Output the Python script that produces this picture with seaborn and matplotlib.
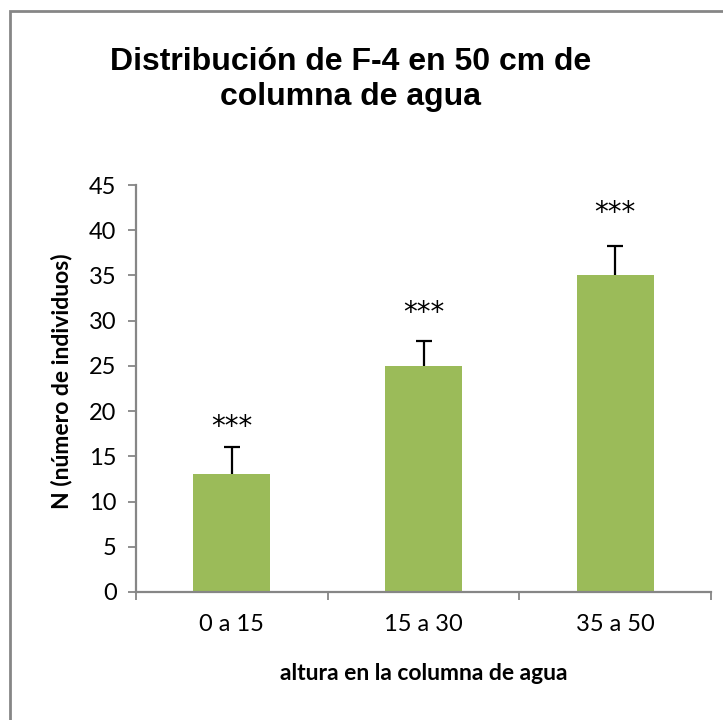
import matplotlib
matplotlib.use("Agg")
import matplotlib.pyplot as plt
from matplotlib.patches import Rectangle
import seaborn as sns
import pandas as pd

# Data
categories = ["0 a 15", "15 a 30", "35 a 50"]
individuos = [13, 25, 35]
error_sup = [3.0, 2.8, 3.3]
significancia = ["***", "***", "***"]
y_ticks = [0, 5, 10, 15, 20, 25, 30, 35, 40, 45]

df = pd.DataFrame({"altura": categories, "N": individuos})

sns.set_theme(style="white")
plt.rcParams["font.family"] = ["Lato", "DejaVu Sans"]

BAR_COLOR = "#9BBB59"
AXIS_COLOR = "#868686"

fig = plt.figure(figsize=(7.23, 7.2), dpi=100)

# chart frame: a patch whose right and bottom edges run off the canvas
frame = Rectangle((10, -20), 760, 720 - 11 + 20, transform=None,
                  fill=False, edgecolor=AXIS_COLOR, linewidth=2.0,
                  clip_on=False, zorder=0)
fig.add_artist(frame)

ax = fig.add_axes([136 / 723, 1 - 592 / 720, (711 - 136) / 723, (592 - 185) / 720])

sns.barplot(data=df, x="altura", y="N", color=BAR_COLOR, width=0.4,
            saturation=1, errorbar=None, ax=ax)
for p in ax.patches:
    p.set_edgecolor("none")

# one-sided (upper) error bars
_, caps, _ = ax.errorbar(range(len(categories)), individuos,
                         yerr=[[0] * len(error_sup), error_sup],
                         fmt="none", ecolor="black", elinewidth=1.6,
                         capsize=6, capthick=1.6, zorder=3)
caps[0].set_visible(False)  # lower caps sit on the bar tops

# significance marks
star_y = [18.2, 30.8, 41.9]
for i, (s, y) in enumerate(zip(significancia, star_y)):
    ax.text(i, y, s, ha="center", va="center", fontsize=20,
            family=["DejaVu Sans"], color="black")

ax.set_ylim(0, 45)
ax.set_yticks(y_ticks)
ax.set_xlim(-0.5, len(categories) - 0.5)
ax.set_xticks(range(len(categories)))
ax.set_xticks([i - 0.5 for i in range(len(categories) + 1)], minor=True)
ax.set_xticklabels(categories, fontsize=17)
ax.tick_params(axis="y", labelsize=17, length=6, width=1.3, color=AXIS_COLOR,
               direction="out", left=True, pad=8, labelcolor="black")
ax.tick_params(axis="x", which="major", length=0, pad=16, labelcolor="black")
ax.tick_params(axis="x", which="minor", length=6, width=1.3, color=AXIS_COLOR,
               direction="out", bottom=True)

for side in ["top", "right"]:
    ax.spines[side].set_visible(False)
for side in ["left", "bottom"]:
    ax.spines[side].set_color(AXIS_COLOR)
    ax.spines[side].set_linewidth(1.6)

ax.set_xlabel("altura en la columna de agua", fontsize=16.5, fontweight="bold",
              labelpad=20, color="black")
ax.set_ylabel("")
fig.text(61 / 723, 1 - 381 / 720, "N (número de individuos)", rotation=90,
         ha="center", va="center", fontsize=16.5, fontweight="bold", color="black")

fig.text(351 / 723, 1 - 105 / 720, "Distribución de F-4 en 50 cm de\ncolumna de agua",
         ha="center", va="baseline", fontsize=23, fontweight="bold",
         family=["Liberation Sans", "DejaVu Sans"], linespacing=1.2, color="black")

fig.savefig("out.png", dpi=100, facecolor="white")
